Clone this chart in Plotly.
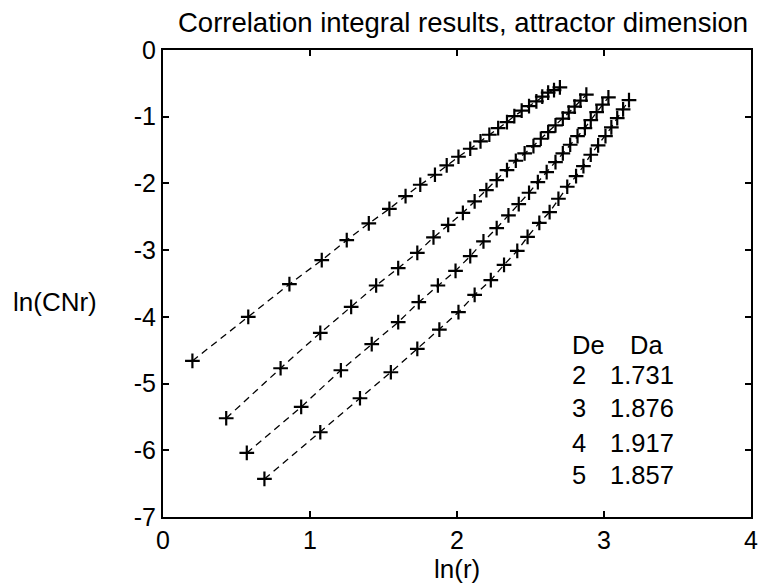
import plotly.graph_objects as go

# ln(r) and ln(C(N,r)) for embedding dimensions 2..5
x_de2 = [0.20, 0.58, 0.86, 1.08, 1.25, 1.40, 1.54, 1.65, 1.75, 1.85, 1.93, 2.01, 2.09,
         2.16, 2.22, 2.28, 2.34, 2.39, 2.44, 2.49, 2.54, 2.58, 2.62, 2.66, 2.70]
y_de2 = [-4.66, -4.00, -3.51, -3.15, -2.85, -2.60, -2.38, -2.19, -2.02, -1.87, -1.73, -1.60, -1.48,
         -1.37, -1.27, -1.17, -1.08, -0.99, -0.91, -0.84, -0.77, -0.70, -0.64, -0.60, -0.56]

x_de3 = [0.43, 0.80, 1.07, 1.28, 1.45, 1.60, 1.73, 1.84, 1.94, 2.04, 2.12, 2.20, 2.27,
         2.34, 2.40, 2.46, 2.52, 2.57, 2.62, 2.67, 2.72, 2.76, 2.80, 2.84, 2.88]
y_de3 = [-5.52, -4.77, -4.24, -3.85, -3.53, -3.27, -3.04, -2.81, -2.62, -2.44, -2.27, -2.10, -1.95,
         -1.80, -1.66, -1.55, -1.44, -1.33, -1.23, -1.13, -1.03, -0.94, -0.85, -0.76, -0.67]

x_de4 = [0.57, 0.94, 1.21, 1.42, 1.60, 1.74, 1.87, 1.99, 2.09, 2.18, 2.27, 2.35, 2.42,
         2.49, 2.55, 2.61, 2.67, 2.72, 2.77, 2.82, 2.87, 2.91, 2.95, 2.99, 3.03]
y_de4 = [-6.04, -5.35, -4.80, -4.41, -4.08, -3.78, -3.53, -3.31, -3.09, -2.87, -2.67, -2.48, -2.31,
         -2.14, -1.98, -1.83, -1.68, -1.55, -1.42, -1.29, -1.17, -1.05, -0.93, -0.82, -0.71]

x_de5 = [0.69, 1.07, 1.34, 1.55, 1.73, 1.88, 2.01, 2.12, 2.23, 2.32, 2.41, 2.48, 2.56,
         2.63, 2.69, 2.75, 2.81, 2.86, 2.91, 2.96, 3.01, 3.05, 3.09, 3.13, 3.17]
y_de5 = [-6.43, -5.73, -5.22, -4.83, -4.48, -4.19, -3.93, -3.67, -3.45, -3.22, -3.01, -2.80, -2.59,
         -2.43, -2.23, -2.05, -1.89, -1.74, -1.57, -1.43, -1.29, -1.16, -1.02, -0.89, -0.75]

# Embedding dimension and estimated attractor dimension
de_values = ["2", "3", "4", "5"]
da_values = ["1.731", "1.876", "1.917", "1.857"]

x_ticks = [0, 1, 2, 3, 4]
x_tick_text = ["0", "1", "2", "3", "4"]
y_ticks = [0, -1, -2, -3, -4, -5, -6, -7]
y_tick_text = ["0", "-1", "-2", "-3", "-4", "-5", "-6", "-7"]

FONT = "Liberation Sans, Arial, Helvetica, sans-serif"

fig = go.Figure()
for xs, ys in [(x_de2, y_de2), (x_de3, y_de3), (x_de4, y_de4), (x_de5, y_de5)]:
    fig.add_trace(go.Scatter(
        x=xs, y=ys, mode="lines+markers",
        line=dict(color="black", width=1.3, dash="7px,5px"),
        marker=dict(symbol="cross-thin", size=10.5,
                    line=dict(color="black", width=2.2)),
        showlegend=False, hoverinfo="x+y",
    ))

axis_common = dict(
    showgrid=False, zeroline=False, showline=True, linecolor="black", linewidth=2,
    mirror="ticks", ticks="inside", ticklen=6, tickwidth=1.5, tickcolor="black",
    tickfont=dict(family=FONT, size=25, color="black"),
)

fig.update_xaxes(range=[0, 4], tickvals=x_ticks, ticktext=x_tick_text, **axis_common)
fig.update_yaxes(range=[-7, 0], tickvals=y_ticks, ticktext=y_tick_text, **axis_common)

annotations = [
    dict(text="Correlation integral results, attractor dimension", xref="paper", yref="paper",
         x=0.51, y=1, yshift=28, xanchor="center", yanchor="middle", showarrow=False,
         font=dict(family=FONT, size=27.5, color="black")),
    dict(text="ln(r)", xref="paper", yref="paper", x=0.5, y=0, yshift=-52,
         xanchor="center", yanchor="middle", showarrow=False,
         font=dict(family=FONT, size=26, color="black")),
    dict(text="ln(CNr)", xref="paper", yref="paper", x=0, y=0.46, xshift=-64,
         xanchor="right", yanchor="middle", showarrow=False,
         font=dict(family=FONT, size=26, color="black")),
]

# Dimension table inside the axes
row_y = [-4.87, -5.37, -5.89, -6.37]
annotations.append(dict(text="De", x=2.77, y=-4.42, xanchor="left", yanchor="middle",
                        showarrow=False, font=dict(family=FONT, size=25.5, color="black")))
annotations.append(dict(text="Da", x=3.16, y=-4.42, xanchor="left", yanchor="middle",
                        showarrow=False, font=dict(family=FONT, size=25.5, color="black")))
for de, da, yy in zip(de_values, da_values, row_y):
    annotations.append(dict(text=de, x=2.77, y=yy, xanchor="left", yanchor="middle",
                            showarrow=False, font=dict(family=FONT, size=25.5, color="black")))
    annotations.append(dict(text=da, x=3.03, y=yy, xanchor="left", yanchor="middle",
                            showarrow=False, font=dict(family=FONT, size=25.5, color="black")))

fig.update_layout(
    width=766, height=584,
    margin=dict(l=163, r=8, t=50, b=67),
    paper_bgcolor="white", plot_bgcolor="white",
    annotations=annotations,
)

fig.write_html("out.html")
